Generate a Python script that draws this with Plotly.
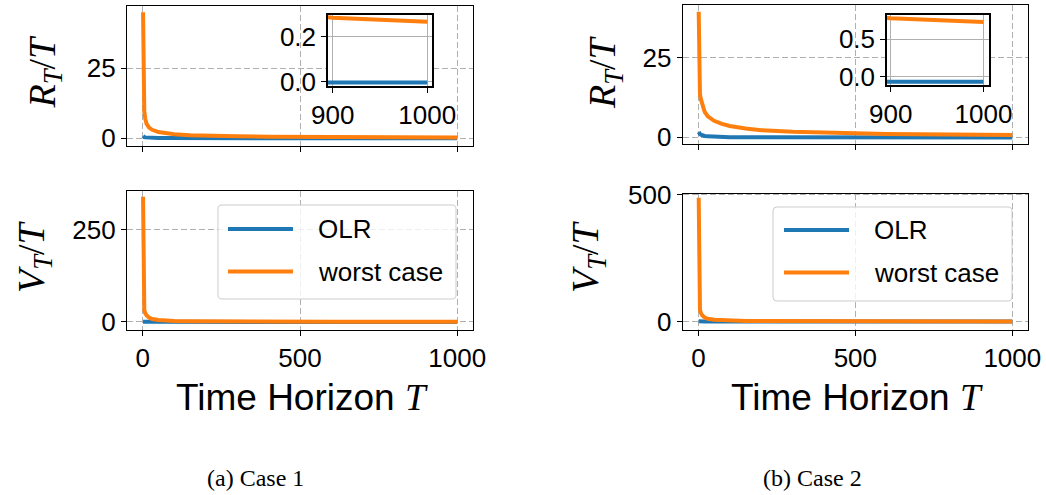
import plotly.graph_objects as go

W, H = 1046, 495

# ---------------- data ----------------
T = [1, 2, 3, 5, 8, 12, 20, 30, 50, 75, 100, 150, 200, 300, 400, 500, 600, 700, 800, 900, 1000]

# Case 1
R1_olr = [0.8, 0.6, 0.5, 0.4, 0.3, 0.25, 0.18, 0.13, 0.08, 0.05, 0.04, 0.03, 0.02, 0.01, 0.005, 0.0, 0.0, -0.002, -0.003, -0.004, -0.004]
R1_worst = [45, 22, 14, 9.5, 7.0, 5.2, 3.8, 3.0, 2.2, 1.7, 1.4, 1.08, 0.88, 0.66, 0.54, 0.46, 0.40, 0.355, 0.318, 0.284, 0.266]
V1_olr = [0.6, 0.5, 0.4, 0.3, 0.25, 0.2, 0.15, 0.1, 0.08, 0.06, 0.05, 0.04, 0.03, 0.02, 0.02, 0.01, 0.01, 0.01, 0.01, 0.01, 0.01]
V1_worst = [340, 120, 50, 32, 24, 18, 12, 8, 5, 3.5, 2.5, 1.8, 1.4, 1.0, 0.8, 0.65, 0.55, 0.48, 0.42, 0.38, 0.34]

# Case 2
R2_olr = [1.7, 1.4, 1.2, 1.0, 0.8, 0.6, 0.42, 0.3, 0.18, 0.1, 0.05, 0.0, -0.02, -0.04, -0.05, -0.055, -0.06, -0.065, -0.068, -0.069, -0.069]
R2_worst = [39.5, 18, 15.5, 13.5, 12, 10.5, 8.0, 6.6, 5.2, 4.2, 3.55, 2.75, 2.25, 1.72, 1.42, 1.22, 1.07, 0.95, 0.86, 0.783, 0.73]
V2_olr = [1.0, 0.8, 0.6, 0.5, 0.4, 0.3, 0.2, 0.15, 0.1, 0.08, 0.06, 0.05, 0.04, 0.03, 0.02, 0.02, 0.02, 0.01, 0.01, 0.01, 0.01]
V2_worst = [487, 170, 70, 45, 34, 25, 16, 11, 7, 5, 3.8, 2.7, 2.1, 1.5, 1.2, 1.0, 0.85, 0.75, 0.65, 0.6, 0.55]

series_names = ["OLR", "worst case"]
x_ticks = [0, 500, 1000]
inset_x_ticks = [900, 1000]
yticks_R = [0, 25]
yticks_V1 = [0, 250]
yticks_V2 = [0, 500]
inset_yticks_1 = [0.0, 0.2]
inset_yticks_2 = [0.0, 0.5]
captions = ["(a) Case 1", "(b) Case 2"]

BLUE = "#1f77b4"
ORANGE = "#ff7f0e"
SANS = "Liberation Sans"
SERIF = "Liberation Serif"

def xd(a, b):
    return [a / W, b / W]

def yd(top, bottom):
    return [1 - bottom / H, 1 - top / H]

def px(x):
    return x / W

def py(y):
    return 1 - y / H

fig = go.Figure()

# subplot ids: 1 L-top, 2 L-bottom, 3 R-top, 4 R-bottom, 5 L-inset, 6 R-inset
data_map = {
    1: (R1_olr, R1_worst),
    2: (V1_olr, V1_worst),
    3: (R2_olr, R2_worst),
    4: (V2_olr, V2_worst),
    5: (R1_olr, R1_worst),
    6: (R2_olr, R2_worst),
}
for k, (olr, worst) in data_map.items():
    xa = "x" if k == 1 else f"x{k}"
    ya = "y" if k == 1 else f"y{k}"
    for vals, col, nm in [(olr, BLUE, series_names[0]), (worst, ORANGE, series_names[1])]:
        fig.add_trace(go.Scatter(x=T, y=vals, mode="lines", name=nm,
                                 line=dict(color=col, width=4),
                                 xaxis=xa, yaxis=ya, showlegend=False,
                                 cliponaxis=True))

tickfont = dict(family=SANS, size=26, color="black")

common = dict(ticks="outside", ticklen=5, tickwidth=1.2, tickcolor="black",
              showline=True, mirror=True, linecolor="black",
              zeroline=False, tickfont=tickfont, automargin=False)

GRID_MAIN = dict(showgrid=True, gridcolor="#b0b0b0", griddash="6px,3px", gridwidth=1)
GRID_INSET = dict(showgrid=True, gridcolor="#b0b0b0", gridwidth=1)

def main_x(domain, anchor, labels):
    return dict(domain=domain, anchor=anchor, range=[-50, 1050],
                tickvals=x_ticks, showticklabels=labels, linewidth=1.2, **GRID_MAIN, **common)

def main_y(domain, anchor, rng, tv):
    return dict(domain=domain, anchor=anchor, range=rng, tickvals=tv, linewidth=1.2,
                **GRID_MAIN, **common)

def inset_x(domain, anchor, rng):
    return dict(domain=domain, anchor=anchor, range=rng, tickvals=inset_x_ticks, linewidth=1.5,
                **GRID_INSET, **common)

def inset_y(domain, anchor, rng, tv):
    return dict(domain=domain, anchor=anchor, range=rng, tickvals=tv, tickformat=".1f",
                linewidth=1.5, **GRID_INSET, **common)

LX = xd(127, 473)
RX = xd(682.7, 1028)
fig.update_layout(
    xaxis=main_x(LX, "y", False),
    yaxis=main_y(yd(5.5, 145.5), "x", [-2.6, 47.4], yticks_R),
    xaxis2=main_x(LX, "y2", True),
    yaxis2=main_y(yd(190.5, 330), "x2", [-22, 357], yticks_V1),
    xaxis3=main_x(RX, "y3", False),
    yaxis3=main_y(yd(5, 144), "x3", [-2.1, 41.6], yticks_R),
    xaxis4=main_x(RX, "y4", True),
    yaxis4=main_y(yd(193.5, 330), "x4", [-33, 504], yticks_V2),
    xaxis5=inset_x(xd(328, 432), "y5", [895, 1005]),
    yaxis5=inset_y(yd(15, 86), "x5", [-0.019, 0.296], inset_yticks_1),
    xaxis6=inset_x(xd(887, 989), "y6", [896, 1006]),
    yaxis6=inset_y(yd(15, 85), "x6", [-0.111, 0.825], inset_yticks_2),
)

annotations = []
shapes = []

def ytitle(letter, cx, cy):
    annotations.append(dict(
        text=f"<i>{letter}</i><sub><i>T</i></sub>/<i>T</i>",
        x=px(cx), y=py(cy), xref="paper", yref="paper", xanchor="center", yanchor="middle",
        textangle=-90, showarrow=False, font=dict(family=SERIF, size=38, color="black")))

ytitle("R", 44.5, 72)
ytitle("V", 34, 257)
ytitle("R", 605, 72)
ytitle("V", 588, 257)

for cx in (302, 857):
    annotations.append(dict(
        text=f"Time Horizon <span style='font-family:{SERIF}'><i>T</i></span>",
        x=px(cx), y=py(397), xref="paper", yref="paper", xanchor="center", yanchor="middle",
        showarrow=False, font=dict(family=SANS, size=37, color="black")))

for cx, cap in zip((255, 812), captions):
    annotations.append(dict(
        text=cap, x=px(cx), y=py(478), xref="paper", yref="paper",
        xanchor="center", yanchor="middle", showarrow=False,
        font=dict(family=SERIF, size=24, color="black")))

def rounded_rect(x0, y0, x1, y1, r=4):
    def P(x, y):
        return f"{px(x):.5f},{py(y):.5f}"
    return (f"M{P(x0 + r, y0)} L{P(x1 - r, y0)} Q{P(x1, y0)} {P(x1, y0 + r)} "
            f"L{P(x1, y1 - r)} Q{P(x1, y1)} {P(x1 - r, y1)} L{P(x0 + r, y1)} "
            f"Q{P(x0, y1)} {P(x0, y1 - r)} L{P(x0, y0 + r)} Q{P(x0, y0)} {P(x0 + r, y0)} Z")

def legend(x0, y0, x1, y1, lx0, lx1, ly, tx):
    shapes.append(dict(type="path", path=rounded_rect(x0, y0, x1, y1), xref="paper", yref="paper",
                       fillcolor="rgba(255,255,255,0.8)", line=dict(color="#cccccc", width=1),
                       layer="above"))
    for yy, col, nm in zip(ly, (BLUE, ORANGE), series_names):
        shapes.append(dict(type="line", x0=px(lx0), x1=px(lx1), y0=py(yy), y1=py(yy),
                           xref="paper", yref="paper", line=dict(color=col, width=3.8), layer="above"))
        annotations.append(dict(text=nm, x=px(tx), y=py(yy), xref="paper", yref="paper",
                                xanchor="left", yanchor="middle", showarrow=False,
                                font=dict(family=SANS, size=26, color="black")))

legend(218, 205, 456, 299, 228, 293, (229, 271.5), 316)
legend(773, 207, 1012, 301, 784, 849, (230, 272.5), 872)

fig.update_layout(
    width=W, height=H, margin=dict(l=0, r=0, t=0, b=0),
    paper_bgcolor="white", plot_bgcolor="white",
    showlegend=False, annotations=annotations, shapes=shapes,
)

fig.write_html("out.html")
